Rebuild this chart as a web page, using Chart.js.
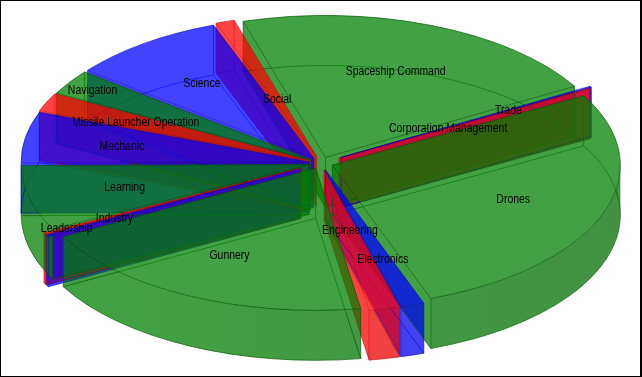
<!DOCTYPE html>
<html>
<head>
<meta charset="utf-8">
<style>html,body{margin:0;padding:0;background:#fff}canvas{display:block}</style>
<script src="https://cdn.jsdelivr.net/npm/chart.js@4/dist/chart.umd.min.js"></script>
</head>
<body>
<canvas id="c" width="642" height="377"></canvas>
<script>
const categories = ["Corporation Management","Drones","Electronics","Engineering","Gunnery","Industry","Leadership","Learning","Mechanic","Missile Launcher Operation","Navigation","Science","Social","Spaceship Command","Trade"];
const values = [0.4,99.2,4.8,6.2,70.2,0.9,0.9,26.5,21,7.5,10.2,31.4,3.8,76.5,0.5];
const colors = ["red","green","blue","red","green","blue","red","green","blue","red","green","blue","red","green","blue"];
const explode = [0.0715,0.042,0.05,0.05,0.042,0.08,0.08,0.042,0.042,0.045,0.042,0.042,0.05,0.042,0.08];
const labelReach = [0.435,0.67,0.66,0.43,0.68,0.735,0.915,0.66,0.66,0.66,0.905,0.66,0.43,0.66,0.67];
const startAngle = 60.4;

const rgb = {red:[255,0,0],green:[0,128,0],blue:[0,0,255]};
const edge = {red:"rgba(190,0,0,.5)",green:"rgba(0,85,0,.65)",blue:"rgba(0,0,190,.55)"};
const ALPHA = 0.74;
const PIE = {cx:321,cy:163,rx:288,ry:142,depth:50};

function fillOf(name){const c=rgb[name];return `rgba(${c[0]},${c[1]},${c[2]},${ALPHA})`;}
function geom(arc,i){
  const p=arc.getProps(['startAngle','endAngle'],true);
  const mid=(p.startAngle+p.endAngle)/2;
  return {a:p.startAngle,b:p.endAngle,mid,d:explode[i],
    x:PIE.cx+Math.cos(mid)*explode[i]*PIE.rx, y:PIE.cy+Math.sin(mid)*explode[i]*PIE.ry};
}
function pt(g,t,f){return [g.x+PIE.rx*f*Math.cos(t),g.y+PIE.ry*f*Math.sin(t)];}
function radialWall(ctx,g,t,name){
  const o=pt(g,t,1),d=PIE.depth;
  ctx.beginPath();ctx.moveTo(g.x,g.y);ctx.lineTo(o[0],o[1]);ctx.lineTo(o[0],o[1]+d);ctx.lineTo(g.x,g.y+d);ctx.closePath();
  ctx.fillStyle=fillOf(name);ctx.fill();
}
function outerWall(ctx,g,name){
  const d=PIE.depth,TAU=Math.PI*2;
  for(const k of [-1,0,1,2]){
    const a=Math.max(g.a,k*TAU),b=Math.min(g.b,k*TAU+Math.PI);
    if(b<=a)continue;
    ctx.beginPath();
    ctx.ellipse(g.x,g.y,PIE.rx,PIE.ry,0,a,b,false);
    ctx.ellipse(g.x,g.y+d,PIE.rx,PIE.ry,0,b,a,true);
    ctx.closePath();
    const c=rgb[name],gr=ctx.createLinearGradient(150,0,620,0);
    const fade=f=>`rgba(${c.map(v=>Math.round(v*f)).join(',')},${ALPHA})`;
    const low=name==='green'?0.84:0.93;
    gr.addColorStop(0,fade(1));gr.addColorStop(0.45,fade(.93));gr.addColorStop(1,fade(low));
    ctx.fillStyle=gr;ctx.fill();
  }
}
function slicePath(ctx,g,dy){
  ctx.beginPath();ctx.moveTo(g.x,g.y+dy);
  ctx.ellipse(g.x,g.y+dy,PIE.rx,PIE.ry,0,g.a,g.b,false);
  ctx.closePath();
}
const pie3d={
  id:'pie3d',
  beforeDatasetsDraw(chart){
    const ctx=chart.ctx,arcs=chart.getDatasetMeta(0).data;
    const gs=arcs.map(geom);
    ctx.save();ctx.lineWidth=1;
    const walls=[];
    gs.forEach((g,i)=>{
      if(Math.cos(g.b)>0) walls.push({g,t:g.b,n:colors[i]});
      if(Math.cos(g.a)<0) walls.push({g,t:g.a,n:colors[i]});
    });
    walls.sort((p,q)=>Math.sin(p.t)-Math.sin(q.t)).forEach(w=>radialWall(ctx,w.g,w.t,w.n));
    gs.forEach((g,i)=>outerWall(ctx,g,colors[i]));
    gs.forEach((g,i)=>{
      ctx.strokeStyle=edge[colors[i]];
      slicePath(ctx,g,PIE.depth);ctx.stroke();
      [g.a,g.b].forEach(t=>{const o=pt(g,t,1);ctx.beginPath();ctx.moveTo(o[0],o[1]);ctx.lineTo(o[0],o[1]+PIE.depth);ctx.stroke();});
      ctx.beginPath();ctx.moveTo(g.x,g.y);ctx.lineTo(g.x,g.y+PIE.depth);ctx.stroke();
    });
    ctx.restore();
    arcs.forEach((arc,i)=>{
      const p=arc.getProps(['x','y','outerRadius'],true),g=gs[i];
      ctx.save();
      ctx.translate(g.x,g.y);
      ctx.scale(PIE.rx/p.outerRadius,PIE.ry/p.outerRadius);
      ctx.translate(-p.x,-p.y);
      arc.draw(ctx);
      ctx.restore();
    });
    ctx.save();ctx.lineWidth=1;
    gs.forEach((g,i)=>{slicePath(ctx,g,0);ctx.strokeStyle=edge[colors[i]];ctx.stroke();});
    ctx.fillStyle='#000';ctx.font='12px "Liberation Sans", sans-serif';ctx.textAlign='center';ctx.textBaseline='middle';
    gs.forEach((g,i)=>{const p=pt(g,g.mid,labelReach[i]);
      ctx.save();ctx.translate(p[0],p[1]+1);ctx.scale(0.87,1);ctx.fillText(categories[i],0,0);ctx.restore();});
    ctx.fillStyle='#000';
    ctx.fillRect(0,0,642,1);ctx.fillRect(0,0,1,377);ctx.fillRect(640,0,2,377);ctx.fillRect(0,376,642,1);
    ctx.restore();
    return false;
  }
};
new Chart(document.getElementById('c'),{
  type:'pie',
  data:{labels:categories,datasets:[{data:values,backgroundColor:colors.map(fillOf),borderWidth:0,hoverOffset:0}]},
  options:{responsive:false,animation:false,rotation:startAngle,events:[],layout:{padding:0},
    plugins:{legend:{display:false},tooltip:{enabled:false},title:{display:false}}},
  plugins:[pie3d]
});
</script>
</body>
</html>
